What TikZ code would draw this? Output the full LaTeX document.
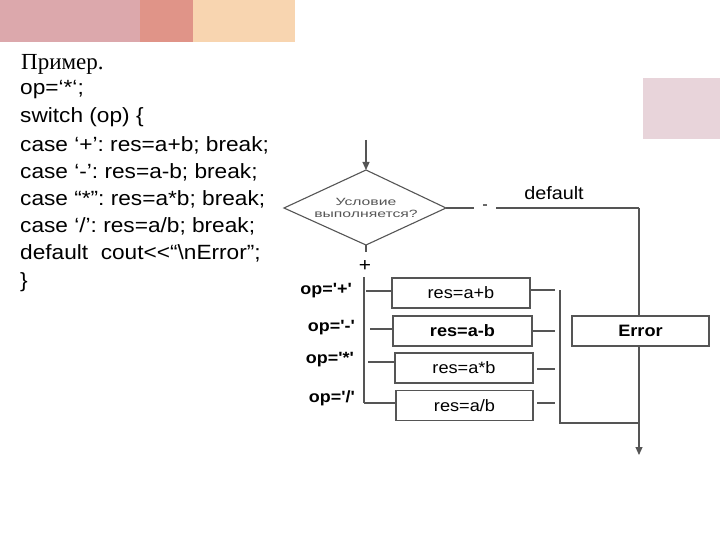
\documentclass[tikz,border=0pt]{standalone}
\usepackage{fontspec}
\newfontfamily\arial{Liberation Sans}[FakeStretch=1.1]
\newfontfamily\widefont{Liberation Sans}[FakeStretch=1.5]
\newfontfamily\serifru{Liberation Serif}
\usetikzlibrary{arrows.meta}
\definecolor{barA}{HTML}{DCA8AC}
\definecolor{barB}{HTML}{E09488}
\definecolor{barC}{HTML}{F8D5B0}
\definecolor{barD}{HTML}{E8D4DA}
\definecolor{ln}{HTML}{555555}
\tikzset{
  code/.style={anchor=west,inner sep=0pt,font=\arial\fontsize{20.6}{23}\selectfont},
  opbox/.style={draw=ln,line width=1.1pt,minimum width=138pt,minimum height=30pt,inner sep=0pt,font=\arial\fontsize{16.5}{19}\selectfont},
  oplab/.style={anchor=east,inner sep=0pt,font=\arial\bfseries\fontsize{16.3}{18}\selectfont},
  flow/.style={draw=ln,line width=1.1pt},
  arr/.style={flow,-{Triangle[length=8pt,width=7pt]}}
}
\begin{document}
\frenchspacing
\begin{tikzpicture}[x=1pt,y=-1pt]
\useasboundingbox (0,0) rectangle (720,540);
\fill[white] (0,0) rectangle (720,540);
% decorative bars
\fill[barA] (0,0) rectangle (140,42);
\fill[barB] (140,0) rectangle (193,42);
\fill[barC] (193,0) rectangle (295,42);
\fill[barD] (643,78) rectangle (720,139);
% code
\node[code,font=\serifru\fontsize{23}{25}\selectfont] (t0) at (21,64) {Пример.};
\node[code] (t1) at (20,90) {op=‘*‘;};
\node[code] (t2) at (20,117) {switch (op) \{};
\node[code] (t3) at (20,145) {case ‘+’: res=a+b; break;};
\node[code] (t4) at (20,172) {case ‘-’: res=a-b; break;};
\node[code] (t5) at (20,199) {case “*”: res=a*b; break;};
\node[code] (t6) at (20,226) {case ‘/’: res=a/b; break;};
\node[code] (t7) at (20,253) {default\ \ cout<<“\textbackslash nError”;};
\node[code] (t8) at (20,282) {\}};
% flowchart
\coordinate (start) at (366,140);
\coordinate (dT) at (366,170);
\coordinate (dB) at (366,245);
\coordinate (dL) at (284,208);
\coordinate (dR) at (446,208);
\draw[flow] (dT) -- (dR) -- (dB) -- (dL) -- cycle;
\node[text=ln,align=center,font=\widefont\fontsize{10.5}{12.5}\selectfont] (dtext) at (366,208) {Условие\\выполняется?};
\draw[arr] (start) -- (dT);
% default branch
\coordinate (gap1) at (474,208);
\coordinate (gap2) at (496,208);
\coordinate (corner) at (639,208);
\node[font=\arial\fontsize{15}{17}\selectfont] (minus) at (485,207) {-};
\node[font=\arial\fontsize{18}{20}\selectfont] (deflab) at (554,193) {default};
\draw[flow] (dR) -- (gap1);
\draw[flow] (gap2) -- (corner);
\node[opbox,font=\arial\bfseries\fontsize{16.5}{19}\selectfont,minimum width=137pt] (err) at (640.5,331) {Error};
\draw[flow] (corner) -- (err.north -| corner);
% plus branch
\coordinate (db2) at (366,252);
\draw[flow] (dB) -- (db2);
\node[font=\arial\fontsize{19}{21}\selectfont] (plus) at (365,266) {+};
\coordinate (vtop) at (364,277);
\coordinate (vbot) at (364,403);
\draw[flow] (vtop) -- (vbot);
% boxes
\node[opbox] (b1) at (461,293) {res=a+b};
\node[opbox,minimum width=139pt] (b2) at (462.5,331) {\bfseries res=a-b};
\node[opbox] (b3) at (464,368) {res=a*b};
\node[opbox,minimum width=137pt] (b4) at (464.5,405.5) {res=a/b};
\node[oplab] (l1) at (352,291) {op='+'};
\node[oplab] (l2) at (355,328) {op='-'};
\node[oplab] (l3) at (354,360) {op='*'};
\node[oplab] (l4) at (355,398) {op='/'};
\draw[flow] (366,291) -- (b1.west |- 0,291);
\draw[flow] (370,329) -- (b2.west |- 0,329);
\draw[flow] (368,362) -- (b3.west |- 0,362);
\draw[flow] (vbot) -- (b4.west |- vbot);
% right collector
\coordinate (cx) at (560,290);
\coordinate (cb) at (560,423);
\coordinate (ce) at (639,423);
\coordinate (end) at (639,455);
\draw[flow] (b1.east |- 0,290) -- (555,290);
\draw[flow] (b2.east |- 0,331) -- (555,331);
\draw[flow] (537,369) -- (555,369);
\draw[flow] (537,403) -- (555,403);
\draw[flow] (cx) -- (cb) -- (ce);
\draw[arr] (err.south -| ce) -- (end);
\end{tikzpicture}
\end{document}
